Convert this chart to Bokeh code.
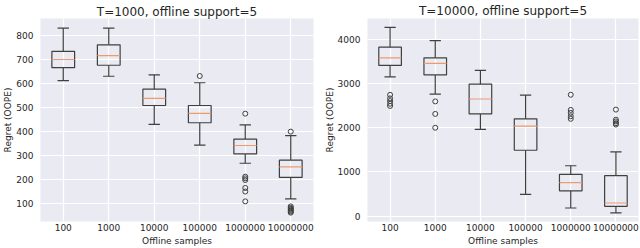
from bokeh.plotting import figure
from bokeh.layouts import row
from bokeh.models import FixedTicker, Range1d
from bokeh.embed import file_html
from bokeh.resources import INLINE

categories = ["100", "1000", "10000", "100000", "1000000", "10000000"]

# T=1000 panel
l_lo = [613, 631, 430, 344, 268, 119]
l_q1 = [667, 677, 509, 437, 307, 209]
l_med = [701, 717, 539, 476, 342, 253]
l_q3 = [735, 762, 577, 509, 369, 281]
l_hi = [832, 832, 637, 604, 428, 383]
l_out = [[], [], [], [632], [475, 212, 205, 198, 165, 150, 109],
         [400, 88, 82, 78, 74, 70, 66, 62]]
l_ticks = [100, 200, 300, 400, 500, 600, 700, 800]

# T=10000 panel
r_lo = [3144, 2757, 1960, 492, 187, 76]
r_q1 = [3405, 3189, 2310, 1490, 574, 224]
r_med = [3575, 3450, 2646, 2034, 760, 299]
r_q3 = [3815, 3575, 2981, 2199, 947, 916]
r_hi = [4261, 3964, 3293, 2735, 1140, 1453]
r_out = [[2740, 2660, 2600, 2540, 2490], [2592, 2310, 1997], [], [],
         [2742, 2400, 2333, 2257, 2199], [2407, 2180, 2140, 2100, 2070]]
r_ticks = [0, 1000, 2000, 3000, 4000]

BG = "#EAEAF2"
EDGE = "#404040"
MED = "#EE9A6E"
TXT = "#262626"
FONT = "DejaVu Sans"


def panel(title, lo, q1, med, q3, hi, outs, yr, ticks, width, bl, br, tstand):
    p = figure(width=width, height=248, output_backend="svg", toolbar_location=None,
               x_range=Range1d(0.5, 6.5), y_range=Range1d(*yr),
               min_border_left=bl, min_border_right=br, min_border_top=0,
               min_border_bottom=0, background_fill_color=BG,
               border_fill_color="white", outline_line_color=None)
    p.title.text = title
    p.title.text_font = FONT
    p.title.text_font_size = "12px"
    p.title.text_font_style = "normal"
    p.title.text_color = TXT
    p.title.align = "center"
    p.title.standoff = tstand
    xs = list(range(1, len(categories) + 1))
    # whiskers
    p.segment(x0=xs, y0=q3, x1=xs, y1=hi, line_color=EDGE, line_width=1.2)
    p.segment(x0=xs, y0=q1, x1=xs, y1=lo, line_color=EDGE, line_width=1.2)
    p.segment(x0=[x - 0.125 for x in xs], y0=hi, x1=[x + 0.125 for x in xs], y1=hi,
              line_color=EDGE, line_width=1.2)
    p.segment(x0=[x - 0.125 for x in xs], y0=lo, x1=[x + 0.125 for x in xs], y1=lo,
              line_color=EDGE, line_width=1.2)
    # boxes
    p.quad(left=[x - 0.25 for x in xs], right=[x + 0.25 for x in xs], top=q3, bottom=q1,
           fill_alpha=0, line_color=EDGE, line_width=1.2)
    # medians
    p.segment(x0=[x - 0.25 for x in xs], y0=med, x1=[x + 0.25 for x in xs], y1=med,
              line_color=MED, line_width=1.2)
    # outliers
    ox, oy = [], []
    for x, vals in zip(xs, outs):
        for v in vals:
            ox.append(x)
            oy.append(v)
    p.scatter(ox, oy, size=5, marker="circle", fill_alpha=0, line_color=EDGE, line_width=1)

    p.xaxis.ticker = FixedTicker(ticks=xs)
    p.xaxis.major_label_overrides = {x: c for x, c in zip(xs, categories)}
    p.yaxis.ticker = FixedTicker(ticks=ticks)
    p.xaxis.axis_label = "Offline samples"
    p.yaxis.axis_label = "Regret (OOPE)"
    for ax in (p.xaxis[0], p.yaxis[0]):
        ax.axis_line_color = None
        ax.major_tick_line_color = None
        ax.minor_tick_line_color = None
        ax.major_tick_out = 0
        ax.major_tick_in = 0
        ax.major_label_text_font = FONT
        ax.major_label_text_font_size = "9px"
        ax.major_label_text_color = TXT
        ax.axis_label_text_font = FONT
        ax.axis_label_text_font_size = "9px"
        ax.axis_label_text_font_style = "normal"
        ax.axis_label_text_color = TXT
    p.xaxis.major_label_standoff = 2
    p.xaxis.axis_label_standoff = 2
    p.yaxis.major_label_standoff = 7
    p.yaxis.axis_label_standoff = 0
    p.xgrid.ticker = FixedTicker(ticks=xs)
    p.ygrid.ticker = FixedTicker(ticks=ticks)
    p.grid.grid_line_color = "white"
    p.grid.grid_line_width = 1.2
    return p


p1 = panel("T=1000, offline support=5", l_lo, l_q1, l_med, l_q3, l_hi, l_out,
           (25, 872), l_ticks, 320, 36, 7, 0)
p2 = panel("T=10000, offline support=5", r_lo, r_q1, r_med, r_q3, r_hi, r_out,
           (-118, 4463), r_ticks, 320, 47, 2, 2)

p = row(p1, p2)
open("out.html", "w").write(file_html(p, INLINE))
